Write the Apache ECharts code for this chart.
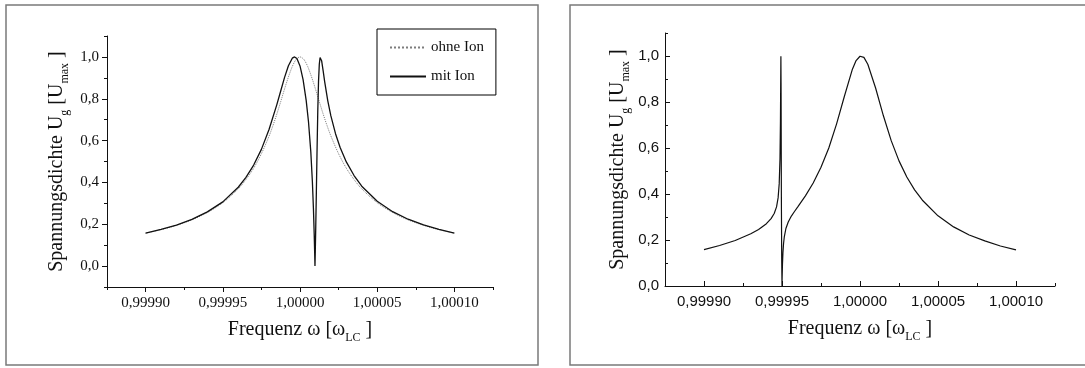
<!DOCTYPE html>
<html>
<head>
<meta charset="utf-8">
<script src="https://cdn.jsdelivr.net/npm/echarts@6/dist/echarts.min.js"></script>
<style>
  html, body { margin: 0; padding: 0; background: #ffffff; }
  #chart { width: 1085px; height: 368px; }
</style>
</head>
<body>
<div id="chart"></div>
<script>
// ---- tick labels ----
const xMajorTicks = [0.9999, 0.99995, 1.0, 1.00005, 1.0001];
const xMinorTicks = [0.999875, 0.999925, 0.999975, 1.000025, 1.000075, 1.000125];
const yMajorTicks = [0, 0.2, 0.4, 0.6, 0.8, 1.0];
const yMinorTicksLeft = [-0.1, 0.1, 0.3, 0.5, 0.7, 0.9, 1.1];
const yMinorTicksRight = [0.1, 0.3, 0.5, 0.7, 0.9, 1.1];

// ---- left panel: ohne Ion (dotted) ----
const ohneIonX = [0.9999, 0.99991, 0.99992, 0.99993, 0.99994, 0.99995, 0.99996, 0.999965, 0.99997, 0.999975,
  0.99998, 0.9999825, 0.999985, 0.9999875, 0.99999, 0.9999925, 0.999995, 0.9999975, 1.0,
  1.0000025, 1.000005, 1.0000075, 1.00001, 1.0000125, 1.000015, 1.0000175, 1.00002, 1.000025,
  1.00003, 1.000035, 1.00004, 1.00005, 1.00006, 1.00007, 1.00008, 1.00009, 1.0001];
const ohneIonY = [0.157, 0.174, 0.195, 0.221, 0.256, 0.303, 0.369, 0.414, 0.468, 0.537,
  0.622, 0.672, 0.727, 0.786, 0.847, 0.904, 0.954, 0.988, 1.0,
  0.988, 0.954, 0.904, 0.847, 0.786, 0.727, 0.672, 0.622, 0.537,
  0.468, 0.414, 0.369, 0.303, 0.256, 0.221, 0.195, 0.174, 0.157];

// ---- left panel: mit Ion (solid) ----
const mitIonX = [0.9999, 0.99991, 0.99992, 0.99993, 0.99994, 0.99995, 0.99996, 0.999965, 0.99997, 0.999975,
  0.99998, 0.999985, 0.9999875, 0.99999, 0.9999925, 0.999995, 0.9999965, 0.999998, 1.0,
  1.000002, 1.000004, 1.0000055, 1.000007, 1.000008, 1.0000087, 1.0000092, 1.0000095, 1.0000097,
  1.0000099, 1.0000102, 1.0000106, 1.000011, 1.0000115, 1.000012, 1.0000125, 1.000013, 1.0000135,
  1.000014, 1.000015, 1.000016, 1.000018, 1.00002, 1.000023, 1.000026, 1.00003, 1.000035,
  1.00004, 1.00005, 1.00006, 1.00007, 1.00008, 1.00009, 1.0001];
const mitIonY = [0.158, 0.175, 0.196, 0.223, 0.259, 0.307, 0.377, 0.424, 0.483, 0.558,
  0.654, 0.772, 0.837, 0.902, 0.958, 0.994, 1.0, 0.992, 0.957,
  0.891, 0.792, 0.690, 0.546, 0.407, 0.274, 0.152, 0.065, 0.0,
  0.070, 0.186, 0.357, 0.534, 0.736, 0.883, 0.965, 0.997, 0.998,
  0.982, 0.933, 0.881, 0.790, 0.718, 0.633, 0.567, 0.498, 0.433,
  0.382, 0.310, 0.260, 0.224, 0.197, 0.175, 0.158];

// ---- right panel ----
const rightX = [0.9999, 0.99991, 0.99992, 0.99993, 0.999935, 0.99994, 0.999943, 0.999945, 0.9999465, 0.9999475,
  0.9999482, 0.9999487, 0.999949, 0.99994915, 0.99994929, 0.9999494, 0.9999496, 0.9999498, 0.99995,
  0.9999501, 0.9999503, 0.9999506, 0.999951, 0.9999515, 0.9999525, 0.999954, 0.999956, 0.999958,
  0.99996, 0.999965, 0.99997, 0.999975, 0.99998, 0.999985, 0.99999, 0.999995, 0.9999975, 1.0,
  1.000001, 1.0000025, 1.000005, 1.00001, 1.000015, 1.00002, 1.000025, 1.00003, 1.000035,
  1.00004, 1.00005, 1.00006, 1.00007, 1.00008, 1.00009, 1.0001];
const rightY = [0.158, 0.176, 0.198, 0.227, 0.246, 0.271, 0.293, 0.315, 0.344, 0.383,
  0.444, 0.551, 0.715, 0.866, 0.999, 0.883, 0.384, 0.123, 0.0,
  0.039, 0.095, 0.145, 0.185, 0.215, 0.250, 0.278, 0.304, 0.324,
  0.343, 0.392, 0.448, 0.516, 0.600, 0.705, 0.825, 0.940, 0.980, 0.999,
  1.0, 0.994, 0.964, 0.861, 0.740, 0.632, 0.544, 0.474, 0.418,
  0.373, 0.305, 0.257, 0.222, 0.196, 0.174, 0.157];

const pairs = (xs, ys) => xs.map((x, i) => [x, ys[i]]);

const SERIF = '"Liberation Serif", "Times New Roman", serif';
const SANS = '"Liberation Sans", Arial, sans-serif';
const INK = '#111';

const fmtX = v => v.toFixed(5).replace('.', ',');
const fmtY = v => v.toFixed(1).replace('.', ',');

const nameStyle = {
  fontFamily: SERIF, fontSize: 20, color: INK, lineHeight: 28,
  rich: {
    sub: { fontFamily: SERIF, fontSize: 12, lineHeight: 12, verticalAlign: 'bottom', color: INK }
  }
};

function xPair(gridIndex, labelFont, inside, gap) {
  return [
    {
      type: 'value', gridIndex, position: 'bottom', min: 0.999875, max: 1.000125,
      axisLine: { show: true, onZero: false, lineStyle: { color: INK, width: 1 } },
      axisTick: { show: true, inside, length: 5, customValues: xMajorTicks, lineStyle: { color: INK, width: 1 } },
      axisLabel: { show: true, customValues: xMajorTicks, formatter: fmtX, fontFamily: labelFont, fontSize: 15, color: INK, margin: inside ? 8 : 9 },
      splitLine: { show: false },
      name: 'Frequenz ω [ω{sub|LC} ]', nameLocation: 'middle', nameGap: gap, nameTextStyle: nameStyle
    },
    {
      type: 'value', gridIndex, position: 'bottom', min: 0.999875, max: 1.000125,
      axisLine: { show: false, onZero: false },
      axisTick: { show: true, inside, length: 3, customValues: xMinorTicks, lineStyle: { color: INK, width: 1 } },
      axisLabel: { show: false },
      splitLine: { show: false }
    }
  ];
}

function yPair(gridIndex, min, minor, labelFont, inside, gap) {
  return [
    {
      type: 'value', gridIndex, position: 'left', min, max: 1.1,
      axisLine: { show: true, onZero: false, lineStyle: { color: INK, width: 1 } },
      axisTick: { show: true, inside, length: 5, customValues: yMajorTicks, lineStyle: { color: INK, width: 1 } },
      axisLabel: { show: true, customValues: yMajorTicks, formatter: fmtY, fontFamily: labelFont, fontSize: 15, color: INK, margin: inside ? 6 : 8 },
      splitLine: { show: false },
      name: 'Spannungsdichte U{sub|g} [U{sub|max} ]', nameLocation: 'middle', nameGap: gap, nameTextStyle: nameStyle
    },
    {
      type: 'value', gridIndex, position: 'left', min, max: 1.1,
      axisLine: { show: false, onZero: false },
      axisTick: { show: true, inside, length: 3, customValues: minor, lineStyle: { color: INK, width: 1 } },
      axisLabel: { show: false },
      splitLine: { show: false }
    }
  ];
}

const chart = echarts.init(document.getElementById('chart'), null, { renderer: 'canvas' });

chart.setOption({
  backgroundColor: '#ffffff',
  animation: false,
  graphic: [
    { type: 'rect', shape: { x: 6, y: 5, width: 532, height: 360 }, style: { fill: 'none', stroke: '#7a7a7a', lineWidth: 1.5 }, silent: true },
    { type: 'rect', shape: { x: 570, y: 5, width: 520, height: 360 }, style: { fill: 'none', stroke: '#7a7a7a', lineWidth: 1.5 }, silent: true }
  ],
  grid: [
    { left: 107, top: 36, width: 386, height: 251, containLabel: false },
    { left: 665, top: 33, width: 390, height: 253, containLabel: false }
  ],
  legend: {
    data: ['ohne Ion', 'mit Ion'],
    orient: 'vertical',
    left: 377, top: 29,
    padding: [11, 12, 11, 12],
    itemWidth: 36, itemHeight: 10, itemGap: 14,
    borderColor: '#000', borderWidth: 1,
    itemStyle: { color: 'transparent', borderColor: 'transparent', borderWidth: 0, opacity: 0 },
    textStyle: { fontFamily: SERIF, fontSize: 15, color: INK }
  },
  xAxis: [].concat(xPair(0, SERIF, false, 27), xPair(1, SANS, true, 29)),
  yAxis: [].concat(yPair(0, -0.1, yMinorTicksLeft, SERIF, false, 36), yPair(1, 0, yMinorTicksRight, SANS, true, 33)),
  series: [
    {
      name: 'ohne Ion', type: 'line', xAxisIndex: 0, yAxisIndex: 0,
      data: pairs(ohneIonX, ohneIonY), symbol: 'none', smooth: 0.3,
      lineStyle: { color: '#7d7d7d', width: 1, type: 'dotted' }, itemStyle: { color: '#7d7d7d' }
    },
    {
      name: 'mit Ion', type: 'line', xAxisIndex: 0, yAxisIndex: 0,
      data: pairs(mitIonX, mitIonY), symbol: 'none',
      lineStyle: { color: INK, width: 1.3 }, itemStyle: { color: INK }
    },
    {
      name: 'rechts', type: 'line', xAxisIndex: 2, yAxisIndex: 2,
      data: pairs(rightX, rightY), symbol: 'none',
      lineStyle: { color: INK, width: 1.2 }, itemStyle: { color: INK }
    }
  ]
});
</script>
</body>
</html>
